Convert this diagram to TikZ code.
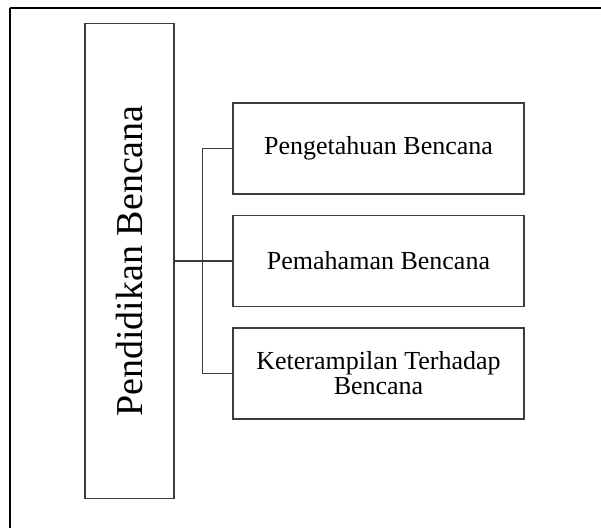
\documentclass[tikz,border=0pt]{standalone}
\usepackage{fontspec}
\setmainfont{Liberation Serif}
\usepackage{tikz}
\usetikzlibrary{positioning}
\definecolor{Garis}{RGB}{60, 60, 60}

\begin{document}
\begin{tikzpicture}[
        x=1pt, y=-1pt,
        induk/.style={
            rectangle,
            draw=Garis,
            line width=1.6pt,
            minimum width=475pt,
            minimum height=89pt,
            inner sep=0pt,
            font=\fontsize{38}{38}\selectfont
        },
        anak/.style={
            rectangle,
            draw=Garis,
            line width=1.6pt,
            minimum width=291pt,
            minimum height=91pt,
            inner sep=0pt,
            align=center,
            font=\fontsize{26}{25}\selectfont
        },
        garis/.style={
            line width=1.3pt,
            draw=Garis
        }
    ]
        \useasboundingbox (0,0) rectangle (601,528);
        % Frame
        \draw[line width=1.2pt] (10,8) -- (601,8);
        \draw[line width=2.6pt] (10,8) -- (10,528);

        % Nodes
        \node[induk, rotate=90] (pendidikan) at (129.5, 261) {Pendidikan Bencana};
        \node[anak] (pengetahuan) at (378.5, 148.5) {Pengetahuan Bencana};
        \node[anak] (pemahaman) at (378.5, 261) {Pemahaman Bencana};
        \node[anak] (keterampilan) at (378.5, 373.5) {Keterampilan Terhadap\\Bencana};

        % Paths
        \draw[garis] (pendidikan.south) -- (pemahaman.west);
        \draw[garis] (pengetahuan.west) -- ++(-30,0) |- (keterampilan.west);
    \end{tikzpicture}
\end{document}
